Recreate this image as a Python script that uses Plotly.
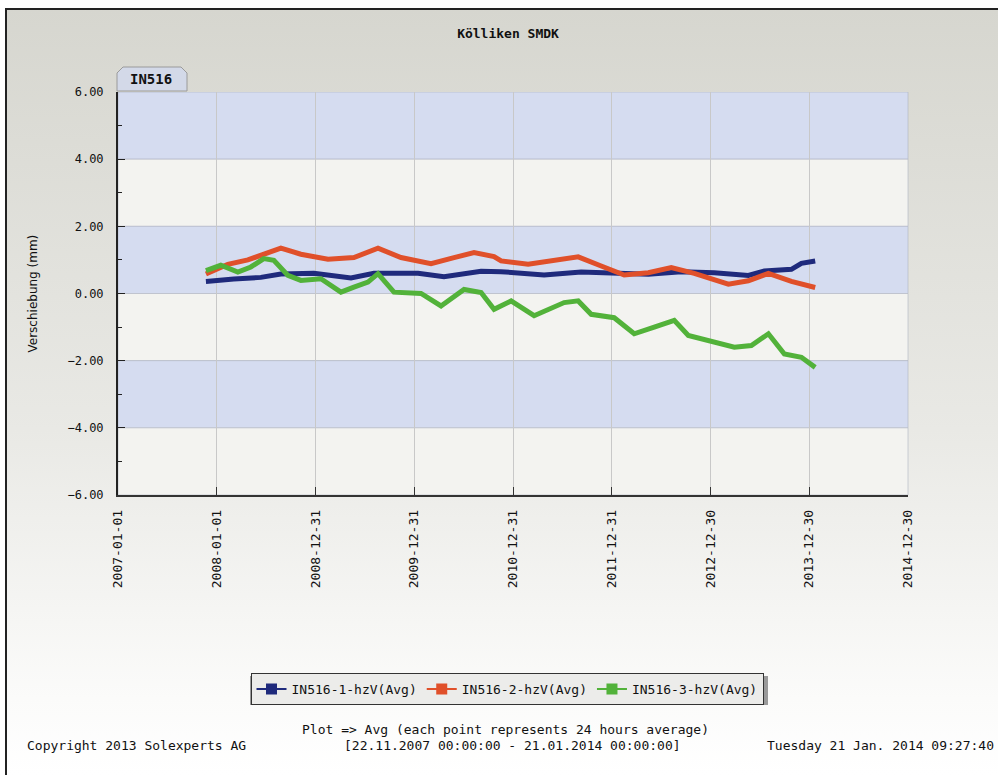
import base64
import plotly.graph_objects as go

# --- data ---
s1_dates = ["2007-11-22", "2008-01-10", "2008-03-04", "2008-06-12", "2008-08-25", "2008-12-25",
            "2009-05-11", "2009-08-04", "2010-01-14", "2010-04-20", "2010-09-04", "2010-11-17",
            "2011-04-25", "2011-09-09", "2012-01-09", "2012-05-14", "2012-09-13", "2013-01-13",
            "2013-05-19", "2013-07-17", "2013-10-25", "2013-12-01", "2014-01-21"]
s1_vals = [0.36, 0.40, 0.43, 0.48, 0.58, 0.60,
           0.46, 0.60, 0.60, 0.50, 0.66, 0.65,
           0.55, 0.64, 0.62, 0.57, 0.65, 0.62,
           0.54, 0.67, 0.72, 0.90, 0.97]

s2_dates = ["2007-11-22", "2008-02-11", "2008-04-25", "2008-07-08", "2008-08-25", "2008-11-07",
            "2009-02-15", "2009-05-22", "2009-08-19", "2009-11-12", "2010-03-03", "2010-05-27",
            "2010-08-09", "2010-10-22", "2010-11-17", "2011-02-25", "2011-05-10", "2011-08-29",
            "2011-11-22", "2012-02-15", "2012-05-14", "2012-08-07", "2012-10-31", "2013-03-06",
            "2013-05-19", "2013-08-01", "2013-10-25", "2014-01-21"]
s2_vals = [0.58, 0.87, 1.00, 1.22, 1.35, 1.17,
           1.02, 1.07, 1.35, 1.07, 0.89, 1.07,
           1.22, 1.10, 0.97, 0.87, 0.97, 1.09,
           0.82, 0.55, 0.62, 0.77, 0.60, 0.28,
           0.38, 0.60, 0.36, 0.18]

s3_dates = ["2007-11-22", "2008-01-16", "2008-03-19", "2008-05-06", "2008-06-23", "2008-07-30",
            "2008-09-20", "2008-11-07", "2009-01-20", "2009-04-04", "2009-05-22", "2009-07-13",
            "2009-08-19", "2009-10-17", "2010-01-25", "2010-04-09", "2010-07-03", "2010-09-04",
            "2010-10-22", "2010-12-24", "2011-03-19", "2011-07-08", "2011-08-29", "2011-10-16",
            "2012-01-09", "2012-03-23", "2012-06-05", "2012-08-18", "2012-10-09", "2013-01-13",
            "2013-03-28", "2013-05-30", "2013-08-01", "2013-09-29", "2013-12-01", "2014-01-21"]
s3_vals = [0.68, 0.84, 0.64, 0.79, 1.04, 0.99,
           0.54, 0.39, 0.44, 0.04, 0.19, 0.34,
           0.59, 0.04, 0.00, -0.37, 0.12, 0.03,
           -0.47, -0.22, -0.66, -0.27, -0.22, -0.62,
           -0.72, -1.20, -1.00, -0.80, -1.25, -1.45,
           -1.60, -1.55, -1.20, -1.80, -1.90, -2.20]

series_names = ["IN516-1-hzV(Avg)", "IN516-2-hzV(Avg)", "IN516-3-hzV(Avg)"]
series_colors = ["#1f2a7c", "#e0502a", "#52b23a"]

x_ticks = ["2007-01-01", "2008-01-01", "2008-12-31", "2009-12-31", "2010-12-31",
           "2011-12-31", "2012-12-30", "2013-12-30", "2014-12-30"]
y_ticks = [6, 4, 2, 0, -2, -4, -6]
band_edges = [6, 4, 2, 0, -2, -4, -6]

MONO = "DejaVu Sans Mono"
W, H = 998, 775
L, R, T, B = 118, 90, 92, 280
PW, PH = W - L - R, H - T - B


def px(x):
    return (x - L) / PW


def py(y):
    return (H - B - y) / PH


fig = go.Figure()
for d, v, name, col in zip([s1_dates, s2_dates, s3_dates], [s1_vals, s2_vals, s3_vals],
                           series_names, series_colors):
    fig.add_trace(go.Scatter(x=d, y=v, mode="lines", line=dict(color=col, width=5),
                             showlegend=False, name=name))
for name, col in zip(series_names, series_colors):
    fig.add_trace(go.Scatter(x=[None], y=[None], mode="lines+markers", name=name,
                             line=dict(color=col, width=2),
                             marker=dict(symbol="square", size=11, color=col)))

# background panel with gradient
svg = ('<svg xmlns="http://www.w3.org/2000/svg" width="993" height="767">'
       '<defs><linearGradient id="g" x1="0" y1="0" x2="0" y2="1">'
       '<stop offset="0" stop-color="#d6d6cf"/><stop offset="0.55" stop-color="#e9e9e5"/>'
       '<stop offset="0.9" stop-color="#fbfbfa"/><stop offset="1" stop-color="#ffffff"/>'
       '</linearGradient></defs>'
       '<rect x="0" y="0" width="993" height="767" fill="url(#g)"/>'
       '<path d="M1,767 L1,1 L993,1" stroke="#222" stroke-width="2" fill="none"/></svg>')
src = "data:image/svg+xml;base64," + base64.b64encode(svg.encode()).decode()
fig.add_layout_image(dict(source=src, xref="paper", yref="paper", x=px(5), y=py(8),
                          sizex=993 / PW, sizey=767 / PH, xanchor="left", yanchor="top",
                          sizing="stretch", layer="below"))

# alternating bands
for i in range(len(band_edges) - 1):
    fig.add_shape(type="rect", xref="paper", yref="y", x0=0, x1=1,
                  y0=band_edges[i + 1], y1=band_edges[i], layer="below",
                  fillcolor="#d5dcf0" if i % 2 == 0 else "#f3f3f0",
                  line=dict(color="rgba(175,180,195,0.6)", width=1))

# tab label
fig.add_shape(type="path", xref="paper", yref="paper", xsizemode="pixel", ysizemode="pixel",
              xanchor=0, yanchor=1, path="M -1,1 L -1,19 L 5,25 L 63,25 L 69,19 L 69,1 Z",
              fillcolor="#d3d9e8", line=dict(color="#9a9a9a", width=1), layer="above")
fig.add_annotation(text="<b>IN516</b>", xref="paper", yref="paper", x=px(151), y=1, yshift=13,
                   xanchor="center", yanchor="middle", showarrow=False,
                   font=dict(family=MONO, size=14, color="#111"))

fig.add_annotation(text="Verschiebung (mm)", xref="paper", yref="paper", x=px(32), y=0.5,
                   xanchor="center", yanchor="middle", textangle=-90, showarrow=False,
                   font=dict(family="DejaVu Sans", size=12, color="#111"))

# legend shadow
fig.add_shape(type="rect", xref="paper", yref="paper", x0=px(250), x1=px(768), y0=py(705), y1=py(676),
              fillcolor="#9a9a9a", line=dict(width=0), layer="below")

foot = dict(family=MONO, size=13, color="#111")
fig.add_annotation(text="Plot => Avg (each point represents 24 hours average)", xref="paper",
                   yref="paper", x=px(505), y=py(729), yanchor="middle", showarrow=False, font=foot)
fig.add_annotation(text="[22.11.2007 00:00:00 - 21.01.2014 00:00:00]", xref="paper",
                   yref="paper", x=px(512), y=py(745), yanchor="middle", showarrow=False, font=foot)
fig.add_annotation(text="Copyright 2013 Solexperts AG", xref="paper", yref="paper",
                   x=px(25), y=py(745), xanchor="left", yanchor="middle", showarrow=False, font=foot)
fig.add_annotation(text="Tuesday 21 Jan. 2014 09:27:40", xref="paper", yref="paper",
                   x=px(996), y=py(745), xanchor="right", yanchor="middle", showarrow=False, font=foot)

fig.update_layout(
    width=W, height=H,
    margin=dict(l=L, r=R, t=T, b=B),
    paper_bgcolor="white", plot_bgcolor="rgba(0,0,0,0)",
    title=dict(text="<b>Kölliken SMDK</b>", x=508 / W, y=1 - 33 / H, xanchor="center",
               yanchor="middle", xref="container", yref="container",
               font=dict(family=MONO, size=13, color="#111")),
    legend=dict(orientation="h", x=px(507), y=py(673), xanchor="center", yanchor="top",
                bgcolor="#ececea", bordercolor="#333", borderwidth=1,
                font=dict(family=MONO, size=13, color="#111")),
    showlegend=True,
)
fig.update_xaxes(type="date", range=["2007-01-01", "2014-12-30"], tickvals=x_ticks,
                 ticktext=x_ticks, tickangle=-90, showgrid=True, gridcolor="#c8c8c8",
                 gridwidth=1, showline=True, linecolor="#333", linewidth=1.5,
                 ticks="inside", ticklen=8, tickcolor="#333", ticklabelstandoff=8,
                 tickfont=dict(family=MONO, size=13, color="#111"), zeroline=False)
fig.update_yaxes(range=[-6, 6], tickvals=y_ticks, tickformat=".2f", showgrid=False,
                 showline=True, linecolor="#222", linewidth=2, ticks="inside", ticklen=7,
                 tickcolor="#222", ticklabelstandoff=10, zeroline=False,
                 minor=dict(dtick=1, ticks="inside", ticklen=4, tickcolor="#222", showgrid=False),
                 tickfont=dict(family=MONO, size=12, color="#111"))

fig.write_html("out.html", config={"displayModeBar": False},
               post_script="document.body.style.margin='0';")
